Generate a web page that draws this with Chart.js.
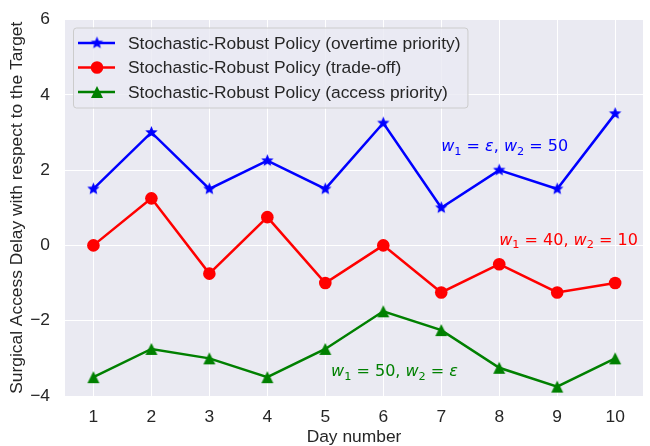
<!DOCTYPE html>
<html>
<head>
<meta charset="utf-8">
<script src="https://cdn.jsdelivr.net/npm/chart.js@4.4.1/dist/chart.umd.min.js"></script>
<style>
  html, body { margin: 0; padding: 0; background: #fff; }
  #wrap { width: 650px; height: 446px; position: relative; }
</style>
</head>
<body>
<div id="wrap"><canvas id="chart"></canvas></div>
<script>
// data
const days = [1, 2, 3, 4, 5, 6, 7, 8, 9, 10];
const overtimePriority = [1.5, 3, 1.5, 2.25, 1.5, 3.25, 1, 2, 1.5, 3.5];
const tradeOff = [0, 1.25, -0.75, 0.75, -1, 0, -1.25, -0.5, -1.25, -1];
const accessPriority = [-3.5, -2.75, -3, -3.5, -2.75, -1.75, -2.25, -3.25, -3.75, -3];
const yTicks = [-4, -2, 0, 2, 4, 6];

// weight annotations (mathtext pieces), anchored in data coords
const notes = [
  { x: 7, y: 2.5, color: '#0000ff', parts: [['w', 'i'], ['1', 's'], [' = ', ''], ['ε', 'i'], [', ', ''], ['w', 'i'], ['2', 's'], [' = 50', '']] },
  { x: 8, y: 0.02, color: '#ff0000', parts: [['w', 'i'], ['1', 's'], [' = 40, ', ''], ['w', 'i'], ['2', 's'], [' = 10', '']] },
  { x: 5.1, y: -3.48, color: '#008000', parts: [['w', 'i'], ['1', 's'], [' = 50, ', ''], ['w', 'i'], ['2', 's'], [' = ', ''], ['ε', 'i']] },
];

const TXT = '#262626';
const FONT = "'Liberation Sans', Arial, sans-serif";
const FS = 17.4;

// marker images like matplotlib '*' and '^'
function markerImg(color, kind, r) {
  const c = document.createElement('canvas');
  const s = Math.ceil(r * 2 + 2);
  c.width = s; c.height = s;
  const g = c.getContext('2d');
  g.translate(s / 2, s / 2);
  g.beginPath();
  if (kind === 'star') {
    for (let i = 0; i < 10; i++) {
      const rad = i % 2 ? r * 0.45 : r;
      const a = -Math.PI / 2 + i * Math.PI / 5;
      g.lineTo(rad * Math.cos(a), rad * Math.sin(a));
    }
  } else {
    g.moveTo(0, -r);
    g.lineTo(r, r);
    g.lineTo(-r, r);
  }
  g.closePath();
  g.fillStyle = color;
  g.fill();
  return c;
}

const plotBg = {
  id: 'plotBg',
  beforeDraw(chart) {
    const { ctx, chartArea: a } = chart;
    ctx.save();
    ctx.fillStyle = '#eaeaf2';
    ctx.fillRect(a.left, a.top, a.right - a.left, a.bottom - a.top);
    ctx.restore();
  }
};

const weightNotes = {
  id: 'weightNotes',
  afterDatasetsDraw(chart) {
    const { ctx, scales } = chart;
    ctx.save();
    ctx.textBaseline = 'alphabetic';
    ctx.textAlign = 'left';
    notes.forEach(n => {
      let x = scales.x.getPixelForValue(n.x);
      const y = scales.y.getPixelForValue(n.y);
      ctx.fillStyle = n.color;
      n.parts.forEach(([t, st]) => {
        const sub = st === 's';
        ctx.font = (st === 'i' ? 'italic ' : '') + (sub ? '11.3px' : '16px') + " 'DejaVu Sans'";
        ctx.fillText(t, x, sub ? y + 3.5 : y);
        x += ctx.measureText(t).width;
      });
    });
    ctx.restore();
  }
};

const boxLegend = {
  id: 'boxLegend',
  afterDraw(chart) {
    const { ctx, chartArea: a } = chart;
    const x0 = a.left + 8, y0 = a.top + 8;
    const rowH = 24.5;
    ctx.save();
    ctx.font = FS + 'px ' + FONT;
    const sets = chart.data.datasets;
    const w = Math.max(...sets.map(d => ctx.measureText(d.label).width)) + 62;
    const h = 80;
    ctx.fillStyle = 'rgba(234,234,242,0.8)';
    ctx.strokeStyle = '#cccccc';
    ctx.lineWidth = 1;
    ctx.beginPath();
    ctx.roundRect(x0 + 0.5, y0 + 0.5, w, h, 3);
    ctx.fill();
    ctx.stroke();
    sets.forEach((d, i) => {
      const cy = y0 + 15.5 + i * rowH;
      ctx.strokeStyle = d.borderColor;
      ctx.lineWidth = d.borderWidth;
      ctx.beginPath();
      ctx.moveTo(x0 + 5, cy);
      ctx.lineTo(x0 + 42, cy);
      ctx.stroke();
      ctx.fillStyle = d.backgroundColor;
      Chart.helpers.drawPoint(ctx, { pointStyle: d.pointStyle, radius: d.pointRadius, rotation: 0, borderWidth: 0 }, x0 + 24, cy);
      ctx.fillStyle = TXT;
      ctx.textBaseline = 'middle';
      ctx.fillText(d.label, x0 + 55, cy + 1);
    });
    ctx.restore();
  }
};

new Chart(document.getElementById('chart'), {
  type: 'line',
  data: {
    labels: days,
    datasets: [
      { label: 'Stochastic-Robust Policy (overtime priority)', data: overtimePriority, borderColor: '#0000ff', backgroundColor: '#0000ff', pointStyle: markerImg('#0000ff', 'star', 6.5), pointRadius: 6 },
      { label: 'Stochastic-Robust Policy (trade-off)', data: tradeOff, borderColor: '#ff0000', backgroundColor: '#ff0000', pointStyle: 'circle', pointRadius: 6.3 },
      { label: 'Stochastic-Robust Policy (access priority)', data: accessPriority, borderColor: '#008000', backgroundColor: '#008000', pointStyle: markerImg('#008000', 'tri', 6), pointRadius: 6 },
    ].map(d => Object.assign(d, { borderWidth: 2.5, pointBorderWidth: 0, pointHoverRadius: d.pointRadius, tension: 0, clip: false }))
  },
  options: {
    responsive: true,
    maintainAspectRatio: false,
    animation: false,
    layout: { padding: { top: 19.5, right: 7, left: 0, bottom: 0 } },
    plugins: { legend: { display: false }, tooltip: { enabled: false } },
    scales: {
      x: {
        type: 'linear', min: 0.51, max: 10.48,
        afterBuildTicks: s => { s.ticks = days.map(v => ({ value: v })); },
        afterFit: s => { s.height = 50; s.paddingLeft = 0; s.paddingRight = 0; },
        grid: { color: '#ffffff', lineWidth: 1, drawTicks: false },
        border: { display: false },
        ticks: { color: TXT, font: { family: FONT, size: FS }, padding: 11 },
        title: { display: true, text: 'Day number', color: TXT, font: { family: FONT, size: FS, lineHeight: 1.0 }, padding: { top: 0, bottom: 0 } }
      },
      y: {
        min: -4, max: 6,
        afterBuildTicks: s => { s.ticks = yTicks.map(v => ({ value: v })); },
        afterFit: s => { s.width = 65; s.paddingTop = 0; s.paddingBottom = 0; },
        grid: { color: '#ffffff', lineWidth: 1, drawTicks: false },
        border: { display: false },
        ticks: { color: TXT, font: { family: FONT, size: FS }, padding: 15, callback: v => v < 0 ? '\u2212' + Math.abs(v) : String(v) },
        title: { display: true, text: 'Surgical Access Delay with respect to the Target', color: TXT, font: { family: FONT, size: FS }, padding: { top: 7, bottom: 0 } }
      }
    }
  },
  plugins: [plotBg, weightNotes, boxLegend]
});
</script>
</body>
</html>
